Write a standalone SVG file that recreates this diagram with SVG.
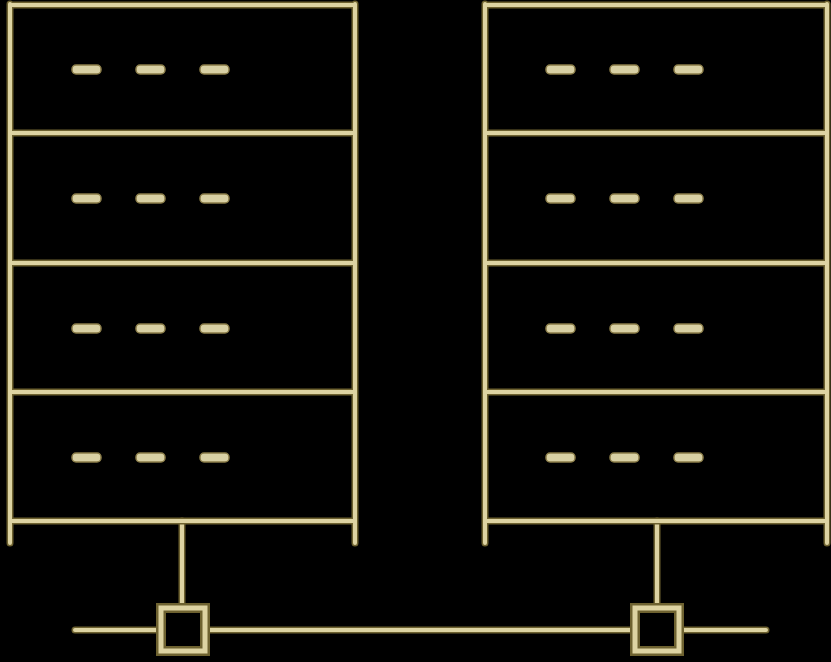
<svg xmlns="http://www.w3.org/2000/svg" width="831" height="662" viewBox="0 0 831 662">
<defs>
<style>
.rod-o{stroke:#6e6230;stroke-width:7;stroke-linecap:round;fill:none}
.rod-i{stroke:#ddd3a2;stroke-width:4;stroke-linecap:round;fill:none}
.handle{fill:#d8d0a4;stroke:#8a7c48;stroke-width:1.5}
.sq-o{fill:#000;stroke:#6e6230;stroke-width:10}
.sq-i{fill:none;stroke:#ddd3a2;stroke-width:5}
</style>
<g id="handles">
<rect class="handle" x="72" y="65" width="29" height="9" rx="4"/>
<rect class="handle" x="136" y="65" width="29" height="9" rx="4"/>
<rect class="handle" x="200" y="65" width="29" height="9" rx="4"/>
</g>
<g id="handlesR">
<rect class="handle" x="546" y="65" width="29" height="9" rx="4"/>
<rect class="handle" x="610" y="65" width="29" height="9" rx="4"/>
<rect class="handle" x="674" y="65" width="29" height="9" rx="4"/>
</g>
</defs>
<rect width="831" height="662" fill="#000"/>
<g id="connectors">
<path class="rod-o" d="M182 521V605M657 521V605M75 630H766"/>
<path class="rod-i" d="M182 521V605M657 521V605M75 630H766"/>
</g>
<g id="rack-left">
<path class="rod-o" d="M10 4V543M355 4V543M10 5H355M10 133H355M10 263H355M10 392H355M10 521H355"/>
<path class="rod-i" d="M10 4V543M355 4V543M10 5H355M10 133H355M10 263H355M10 392H355M10 521H355"/>
<use href="#handles"/>
<use href="#handles" y="129"/>
<use href="#handles" y="259"/>
<use href="#handles" y="388"/>
</g>
<g id="rack-right">
<path class="rod-o" d="M485 4V543M827 4V543M485 5H827M485 133H827M485 263H827M485 392H827M485 521H827"/>
<path class="rod-i" d="M485 4V543M827 4V543M485 5H827M485 133H827M485 263H827M485 392H827M485 521H827"/>
<use href="#handlesR"/>
<use href="#handlesR" y="129"/>
<use href="#handlesR" y="259"/>
<use href="#handlesR" y="388"/>
</g>
<g id="switch-left">
<rect class="sq-o" x="161" y="608" width="44" height="43"/>
<rect class="sq-i" x="161" y="608" width="44" height="43"/>
</g>
<g id="switch-right">
<rect class="sq-o" x="635" y="608" width="44" height="43"/>
<rect class="sq-i" x="635" y="608" width="44" height="43"/>
</g>
</svg>
